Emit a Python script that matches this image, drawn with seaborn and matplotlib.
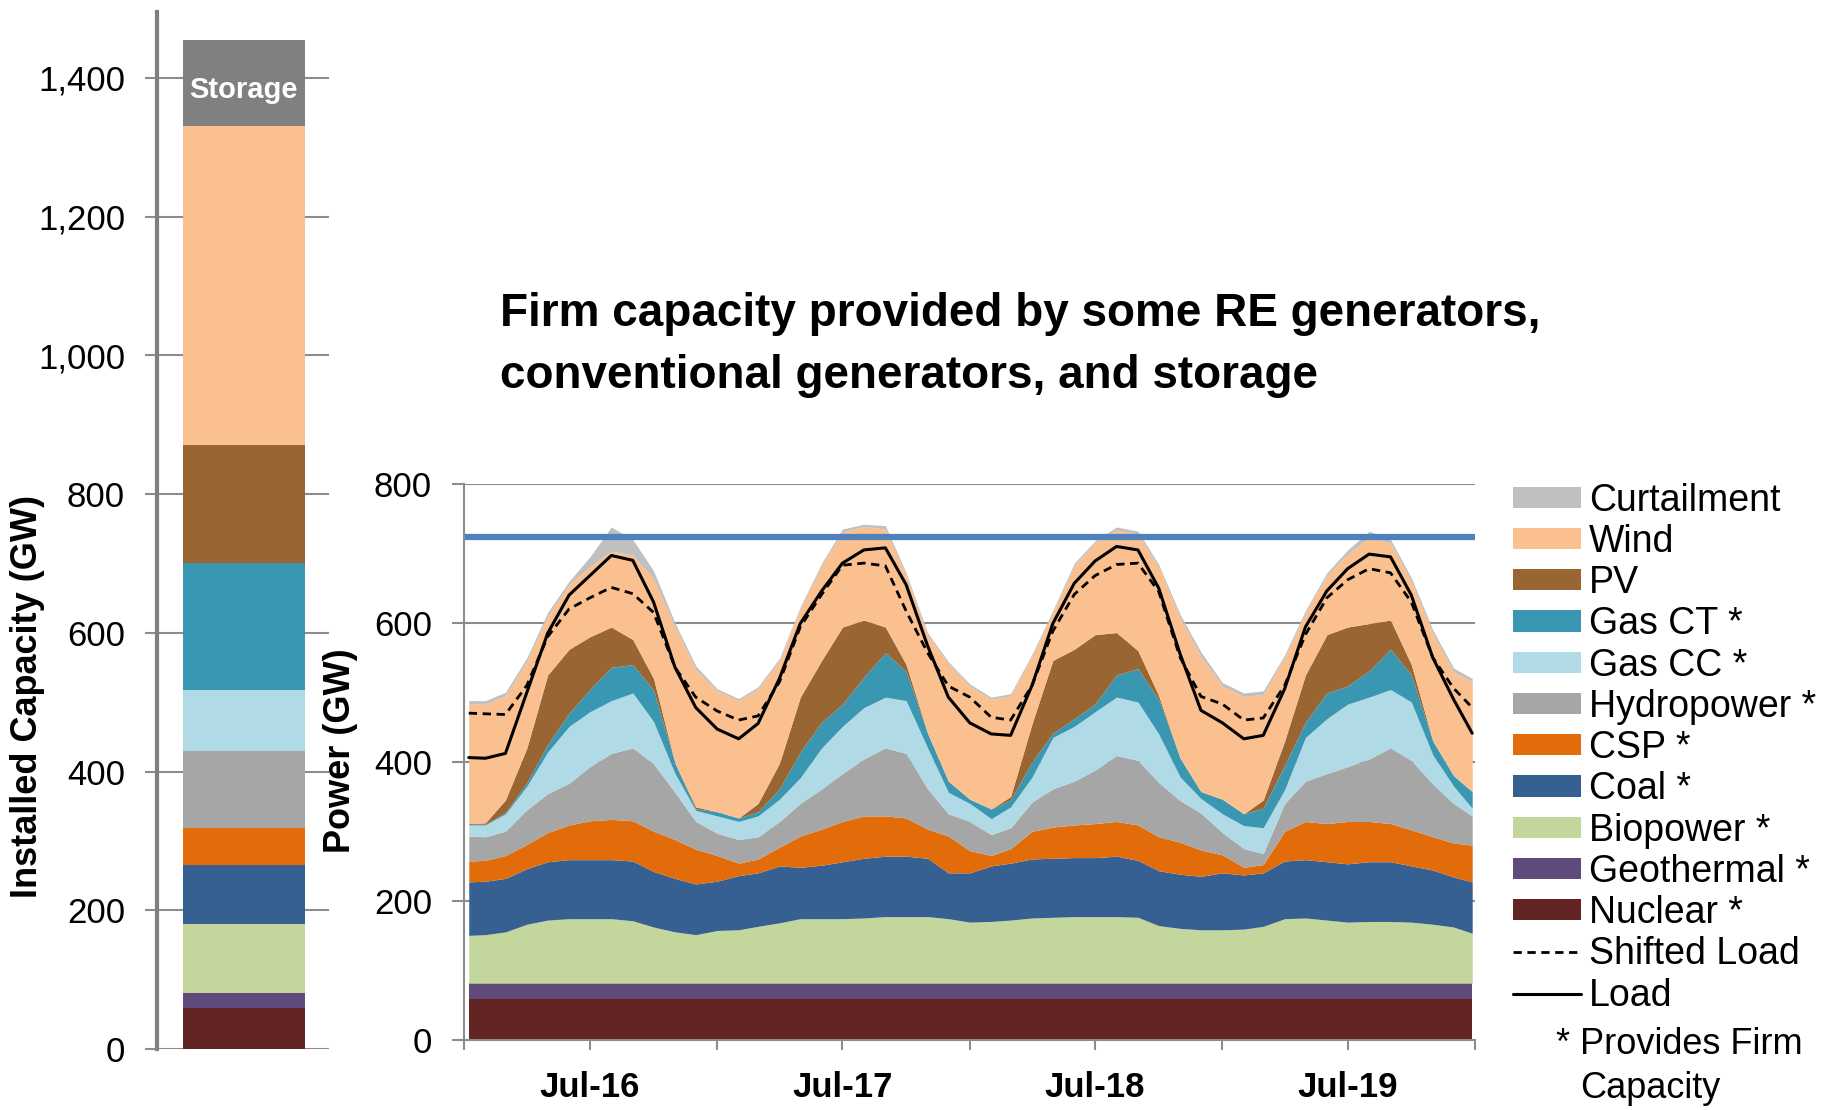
import numpy as np
import pandas as pd
import seaborn as sns
import matplotlib
matplotlib.use('Agg')
import matplotlib.pyplot as plt

# ---- installed capacity (left bar, GW) ----
cap_names = ['Nuclear', 'Geothermal', 'Biopower', 'Coal', 'CSP', 'Hydropower',
             'Gas CC', 'Gas CT', 'PV', 'Wind', 'Storage']
cap_values = [59, 21, 100, 85, 53, 112, 88, 182, 171, 460, 123]

# ---- dispatch time series (right chart, GW), one value per month ----
dates = ([pd.Timestamp('2016-01-08')]
         + list(pd.date_range('2016-02-01', '2019-12-01', freq='MS'))
         + [pd.Timestamp('2019-12-28')])

nuclear = [59, 59, 59, 59, 59, 59, 59, 59, 59, 59, 59, 59,
           59, 59, 59, 59, 59, 59, 59, 59, 59, 59, 59, 59,
           59, 59, 59, 59, 59, 59, 59, 59, 59, 59, 59, 59,
           59, 59, 59, 59, 59, 59, 59, 59, 59, 59, 59, 59, 59]
geothermal = [22, 22, 22, 22, 22, 22, 22, 22, 22, 22, 22, 22,
              22, 22, 22, 22, 22, 22, 22, 22, 22, 22, 22, 22,
              22, 22, 22, 22, 22, 22, 22, 22, 22, 22, 22, 22,
              22, 22, 22, 22, 22, 22, 22, 22, 22, 22, 22, 22, 22]
biopower = [69, 70, 74, 85, 91, 93, 93, 93, 90, 81, 74, 70,
            76, 77, 82, 87, 93, 93, 93, 94, 96, 96, 96, 93,
            88, 89, 91, 94, 95, 96, 96, 96, 95, 83, 79, 77,
            77, 78, 82, 93, 94, 91, 88, 89, 89, 88, 85, 81, 72]
coal = [77, 77, 77, 80, 84, 85, 85, 85, 86, 80, 77, 73,
        71, 78, 77, 82, 74, 77, 82, 86, 87, 87, 84, 66,
        71, 80, 82, 85, 85, 85, 85, 87, 82, 79, 78, 77,
        82, 78, 77, 83, 84, 84, 84, 86, 86, 81, 78, 72, 74]
csp = [30, 30, 33, 35, 42, 50, 56, 58, 58, 58, 56, 50,
       37, 18, 20, 27, 45, 52, 58, 61, 58, 55, 42, 53,
       32, 15, 21, 40, 45, 47, 49, 50, 51, 49, 46, 38,
       26, 11, 12, 43, 55, 55, 61, 58, 55, 52, 48, 49, 53]
hydropower = [36, 34, 35, 50, 56, 60, 78, 95, 105, 97, 68, 40,
              32, 34, 32, 37, 47, 58, 69, 82, 98, 93, 58, 32,
              42, 30, 30, 42, 55, 63, 77, 95, 93, 78, 60, 53,
              32, 27, 16, 40, 58, 72, 79, 90, 109, 100, 76, 57, 42]
gas_cc = [16, 17, 25, 34, 60, 82, 79, 76, 79, 61, 27, 16,
          25, 26, 30, 32, 37, 59, 68, 74, 73, 76, 59, 31,
          26, 23, 30, 36, 74, 79, 84, 84, 84, 70, 34, 21,
          27, 33, 37, 20, 63, 79, 90, 89, 84, 84, 42, 25, 11]
gas_ct = [1, 1, 2, 5, 11, 19, 32, 48, 41, 45, 15, 2,
          6, 5, 6, 15, 37, 37, 32, 44, 64, 42, 21, 16,
          6, 14, 10, 22, 6, 11, 11, 32, 48, 50, 27, 10,
          21, 17, 28, 35, 22, 37, 26, 38, 58, 39, 20, 15, 24]
pv = [1, 2, 18, 50, 100, 92, 76, 58, 36, 17, 0, 3,
      0, 0, 12, 37, 79, 89, 111, 82, 37, 10, 0, 0,
      0, 0, 5, 55, 105, 100, 100, 61, 26, 5, 0, 0,
      0, 0, 12, 35, 68, 84, 85, 68, 42, 15, 0, 0, 0]
wind = [172, 171, 150, 125, 85, 93, 101, 109, 122, 143, 196, 198,
        174, 169, 165, 148, 127, 137, 137, 135, 141, 128, 142, 169,
        163, 158, 145, 97, 69, 121, 132, 148, 168, 185, 202, 195,
        163, 169, 152, 120, 90, 85, 105, 124, 111, 120, 155, 150, 158]
curtailment = [5, 5, 5, 5, 5, 5, 14, 35, 22, 12, 6, 5,
               3, 3, 3, 3, 3, 3, 4, 3, 5, 4, 3, 3,
               3, 3, 3, 3, 3, 3, 3, 4, 4, 4, 5, 6,
               5, 5, 5, 4, 3, 4, 6, 9, 5, 5, 5, 5, 5]
load = [406, 405, 412, 500, 585, 640, 668, 697, 690, 630, 536, 478,
        447, 433, 455, 520, 599, 646, 686, 705, 708, 655, 567, 493,
        456, 440, 438, 510, 599, 657, 689, 710, 705, 650, 555, 474,
        456, 433, 438, 505, 594, 646, 678, 699, 695, 640, 550, 490, 441]
shifted_load = [470, 469, 468, 510, 580, 620, 636, 651, 642, 615, 536, 493,
                473, 460, 466, 515, 594, 641, 683, 686, 682, 617, 557, 509,
                493, 464, 460, 510, 588, 641, 668, 684, 686, 645, 550, 494,
                483, 460, 463, 510, 583, 636, 662, 678, 672, 630, 550, 506, 478]
firm_capacity = 723

xtick_labels = ['', 'Jul-16', '', 'Jul-17', '', 'Jul-18', '', 'Jul-19', '']

colors = {
    'Nuclear': '#632523', 'Geothermal': '#604A7B', 'Biopower': '#C3D69B',
    'Coal': '#376092', 'CSP': '#E36C0A', 'Hydropower': '#A6A6A6',
    'Gas CC': '#B0DAE6', 'Gas CT': '#3A97B2', 'PV': '#996633',
    'Wind': '#FAC090', 'Curtailment': '#C0C0C0', 'Storage': '#808080',
}
grey = '#8C8C8C'

sns.set_theme(style='white')
plt.rcParams['font.family'] = ['Liberation Sans', 'DejaVu Sans']
plt.rcParams['text.color'] = 'black'
plt.rcParams['xtick.color'] = 'black'
plt.rcParams['ytick.color'] = 'black'

fig = plt.figure(figsize=(18.25, 11.1), dpi=100)

# ---------------- left: installed capacity bar ----------------
ax1 = fig.add_axes([0.0860, 0.0550, 0.0942, 0.9342])
cum = np.cumsum(cap_values)
for name, top in reversed(list(zip(cap_names, cum))):
    sns.barplot(x=['Installed'], y=[top], color=colors[name], saturation=1,
                width=0.8, linewidth=0, ax=ax1)
ax1.text(0, 1382, 'Storage', color='white', fontsize=21, fontweight='bold',
         ha='center', va='center')
ax1.set_xlim(-0.570, 0.558)
ax1.set_ylim(0, 1495)
ax1.set_yticks(range(0, 1401, 200))
ax1.set_yticklabels([f'{v:,}' for v in range(0, 1401, 200)])
ax1.set_xticks([])
ax1.set_xlabel('')
ax1.set_ylabel('')
ax1.grid(axis='y', color=grey, lw=1.5)
ax1.set_axisbelow(True)
ax1.tick_params(axis='y', left=True, length=9, width=1.5, color=grey,
                pad=14, labelsize=25, labelcolor='black')
for s in ['top', 'right', 'bottom']:
    ax1.spines[s].set_visible(False)
ax1.spines['left'].set_color('#808080')
ax1.spines['left'].set_linewidth(3)
fig.text(28 / 1825, 1 - 697 / 1110, 'Installed Capacity (GW)', rotation=90,
         fontsize=26, fontweight='bold', ha='center', va='center')

# ---------------- right: dispatch stack ----------------
ax2 = fig.add_axes([0.2542, 0.0635, 0.5540, 0.5005])
stack_names = ['Nuclear', 'Geothermal', 'Biopower', 'Coal', 'CSP', 'Hydropower',
               'Gas CC', 'Gas CT', 'PV', 'Wind', 'Curtailment']
stack_vals = [nuclear, geothermal, biopower, coal, csp, hydropower,
              gas_cc, gas_ct, pv, wind, curtailment]
polys = ax2.stackplot(dates, *stack_vals, colors=[colors[n] for n in stack_names],
                      linewidth=0)

df = pd.DataFrame({'date': dates, 'load': load, 'shifted': shifted_load})
sns.lineplot(data=df, x='date', y='shifted', color='black', lw=2,
             linestyle=(0, (3, 2)), ax=ax2)
sns.lineplot(data=df, x='date', y='load', color='black', lw=2.2, ax=ax2)
ax2.axhline(firm_capacity, color='#4F81BD', lw=4.5)

ax2.set_xlim(pd.Timestamp('2016-01-01'), pd.Timestamp('2020-01-01'))
ax2.set_ylim(0, 800)
ax2.set_yticks([0, 200, 400, 600, 800])
ax2.set_xticks(pd.date_range('2016-01-01', '2020-01-01', freq='6MS'))
ax2.set_xticklabels(xtick_labels, fontweight='bold')
ax2.set_xlabel('')
ax2.set_ylabel('')
ax2.grid(axis='y', color=grey, lw=1.5)
ax2.set_axisbelow(True)
ax2.tick_params(axis='y', left=True, length=9, width=1.5, color=grey,
                pad=14, labelsize=25, labelcolor='black')
ax2.tick_params(axis='x', bottom=True, length=7, width=1.5, color=grey,
                pad=16, labelsize=25, labelcolor='black')
for s in ['top', 'right']:
    ax2.spines[s].set_visible(False)
for s in ['left', 'bottom']:
    ax2.spines[s].set_color(grey)
    ax2.spines[s].set_linewidth(1.5)
fig.text(340 / 1825, 1 - 751 / 1110, 'Power (GW)', rotation=90,
         fontsize=26, fontweight='bold', ha='center', va='center')

# legend, top to bottom
legend_labels = ['Curtailment', 'Wind', 'PV', 'Gas CT *', 'Gas CC *', 'Hydropower *',
                 'CSP *', 'Coal *', 'Biopower *', 'Geothermal *', 'Nuclear *',
                 'Shifted Load', 'Load']
lines = ax2.get_lines()
handles = list(reversed(polys)) + [lines[0], lines[1]]
ax2.legend(handles, legend_labels, loc='upper left',
           bbox_to_anchor=(0.829, 0.5653), bbox_transform=fig.transFigure,
           frameon=False, fontsize=27, handlelength=1.81, handleheight=0.5,
           handletextpad=0.21, labelspacing=0.14, borderpad=0, borderaxespad=0)
fig.text(1556 / 1825, 1 - 1044 / 1110, '* Provides Firm', fontsize=26,
         ha='left', va='center')
fig.text(1580 / 1825, 1 - 1088 / 1110, 'Capacity', fontsize=26,
         ha='left', va='center')

# title
fig.text(500 / 1825, 0.7063, 'Firm capacity provided by some RE generators,',
         fontsize=33, fontweight='bold', va='baseline')
fig.text(500 / 1825, 0.6505, 'conventional generators, and storage',
         fontsize=33, fontweight='bold', va='baseline')

fig.savefig('out.png', dpi=100, facecolor='white')
